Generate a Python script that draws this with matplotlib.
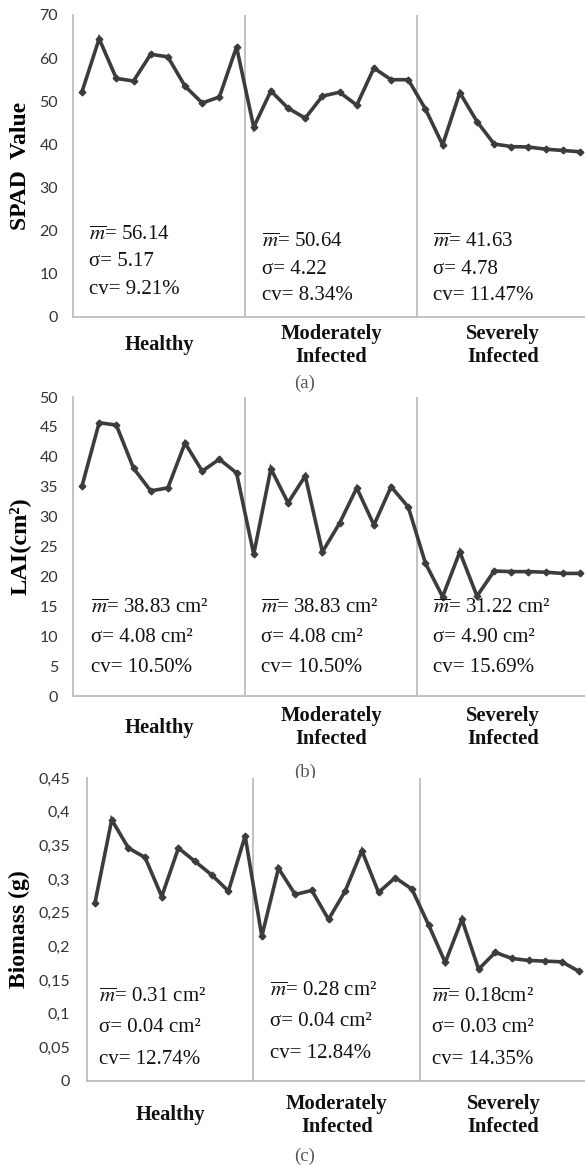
import matplotlib
matplotlib.use("Agg")
import matplotlib.pyplot as plt
import numpy as np

plt.rcParams['mathtext.fontset'] = 'stix'

W, H = 585, 1165

# ---------------- data ----------------
groups = ["Healthy", "Moderately\nInfected", "Severely\nInfected"]

spad_healthy = [52.2, 64.5, 55.3, 54.7, 60.9, 60.3, 53.5, 49.6, 51.0, 62.6]
spad_moderate = [44.0, 52.4, 48.4, 46.1, 51.2, 52.1, 49.1, 57.7, 55.0, 55.0]
spad_severe = [48.2, 39.9, 52.0, 45.3, 40.1, 39.5, 39.4, 38.9, 38.6, 38.3]

lai_healthy = [35.1, 45.7, 45.3, 38.1, 34.3, 34.8, 42.3, 37.6, 39.6, 37.3]
lai_moderate = [23.7, 38.0, 32.3, 36.8, 24.1, 28.9, 34.8, 28.6, 35.0, 31.6]
lai_severe = [22.2, 16.6, 24.1, 16.7, 20.9, 20.8, 20.8, 20.7, 20.5, 20.5]

bio_healthy = [0.265, 0.388, 0.346, 0.332, 0.274, 0.346, 0.326, 0.306, 0.282, 0.364]
bio_moderate = [0.215, 0.316, 0.277, 0.283, 0.240, 0.282, 0.342, 0.280, 0.302, 0.285]
bio_severe = [0.232, 0.176, 0.240, 0.166, 0.191, 0.182, 0.179, 0.178, 0.177, 0.163]

spad_ticks = [0, 10, 20, 30, 40, 50, 60, 70]
spad_ticklabels = ["0", "10", "20", "30", "40", "50", "60", "70"]
lai_ticks = [0, 5, 10, 15, 20, 25, 30, 35, 40, 45, 50]
lai_ticklabels = ["0", "5", "10", "15", "20", "25", "30", "35", "40", "45", "50"]
bio_ticks = [0, 0.05, 0.1, 0.15, 0.2, 0.25, 0.3, 0.35, 0.4, 0.45]
bio_ticklabels = ["0", "0,05", "0,1", "0,15", "0,2", "0,25", "0,3", "0,35", "0,4", "0,45"]

spad_stats = [["$\\overline{m}$= 56.14", "σ= 5.17", "cv= 9.21%"],
              ["$\\overline{m}$= 50.64", "σ= 4.22", "cv= 8.34%"],
              ["$\\overline{m}$= 41.63", "σ= 4.78", "cv= 11.47%"]]
lai_stats = [["$\\overline{m}$= 38.83 cm²", "σ= 4.08 cm²", "cv= 10.50%"],
             ["$\\overline{m}$= 38.83 cm²", "σ= 4.08 cm²", "cv= 10.50%"],
             ["$\\overline{m}$= 31.22 cm²", "σ= 4.90 cm²", "cv= 15.69%"]]
bio_stats = [["$\\overline{m}$= 0.31 cm²", "σ= 0.04 cm²", "cv= 12.74%"],
             ["$\\overline{m}$= 0.28 cm²", "σ= 0.04 cm²", "cv= 12.84%"],
             ["$\\overline{m}$= 0.18cm²", "σ= 0.03 cm²", "cv= 14.35%"]]

# ---------------- styles ----------------
LINE = "#3c3c3c"
SPINE = "#BDBDBD"
TICKC = "#333333"
SERIF = ["Liberation Serif", "DejaVu Serif"]
SANS = ["Lato", "DejaVu Sans"]

fig = plt.figure(figsize=(W / 100, H / 100), dpi=100)


def px_axes(left, right, top, bottom):
    return fig.add_axes([left / W, 1 - bottom / H, (right - left) / W, (bottom - top) / H])


def panel(ax, series, ymax, ticks, ticklabels, ylabel, ylsize, stats, stat_x, stat_off,
          lab_off, cap, cap_off, tick_pad):
    vals = np.concatenate([np.asarray(s, float) for s in series])
    x = np.arange(len(vals))
    ax.plot(x, vals, color=LINE, lw=2.6, marker="D", ms=3.4, mfc=LINE, mec=LINE,
            solid_joinstyle="miter", zorder=3)
    n = len(series[0])
    ax.set_xlim(-0.5, len(vals) - 0.5)
    ax.set_ylim(0, ymax)
    for k in range(1, len(series)):
        ax.axvline(k * n - 0.5, color=SPINE, lw=1.3, zorder=1)
    for s in ("top", "right"):
        ax.spines[s].set_visible(False)
    for s in ("left", "bottom"):
        ax.spines[s].set_color(SPINE)
        ax.spines[s].set_linewidth(1.3)
    ax.set_xticks([])
    ax.set_yticks(ticks)
    ax.set_yticklabels(ticklabels, family=SANS, fontsize=11.5, color=TICKC)
    ax.tick_params(axis="y", length=0, pad=tick_pad)
    ax.set_ylabel(ylabel, family=SERIF, fontsize=ylsize, fontweight="bold", labelpad=6)

    # statistics
    for g, lines in enumerate(stats):
        for j, t in enumerate(lines):
            ax.annotate(t, xy=(g * n + stat_x[g], 0), xycoords=("data", "axes fraction"),
                        xytext=(0, stat_off[g][j] * 0.72), textcoords="offset points",
                        ha="left", va="center", family=SERIF, fontsize=15, color="#111111")
    # category labels
    for g, name in enumerate(groups):
        ax.annotate(name, xy=(g * n + (n - 1) / 2, 0), xycoords=("data", "axes fraction"),
                    xytext=(0, -lab_off * 0.72), textcoords="offset points",
                    ha="center", va="center", family=SERIF, fontsize=14.8,
                    fontweight="bold", linespacing=1.2, color="#111111")
    ax.annotate(cap, xy=(305 / W, 0), xycoords=("figure fraction", "axes fraction"),
                xytext=(0, -cap_off * 0.72), textcoords="offset points",
                ha="center", va="center", family=SERIF, fontsize=13.5, color="#555555")


ax1 = px_axes(73.4, 588.6, 15, 317)
panel(ax1, [spad_healthy, spad_moderate, spad_severe], 70, spad_ticks, spad_ticklabels,
      "SPAD  Value", 17, spad_stats, [0.4, 0.5, 0.45],
      [[82, 55, 28], [75, 48, 21], [75, 48, 21]], 28, "(a)", 66, 11)

ax2 = px_axes(73.4, 588.6, 397, 696)
panel(ax2, [lai_healthy, lai_moderate, lai_severe], 50, lai_ticks, lai_ticklabels,
      "LAI(cm²)", 17.5, lai_stats, [0.55, 0.4, 0.45],
      [[88, 58, 28], [88, 58, 28], [88, 58, 28]], 32, "(b)", 76, 11)

ax3 = px_axes(86.7, 587, 778, 1081)
panel(ax3, [bio_healthy, bio_moderate, bio_severe], 0.45, bio_ticks, bio_ticklabels,
      "Biomass (g)", 17, bio_stats, [0.25, 0.5, 0.2],
      [[84, 53, 22], [90, 59, 27], [84, 53, 22]], 34, "(c)", 75, 12)

fig.savefig("out.png", dpi=100)
